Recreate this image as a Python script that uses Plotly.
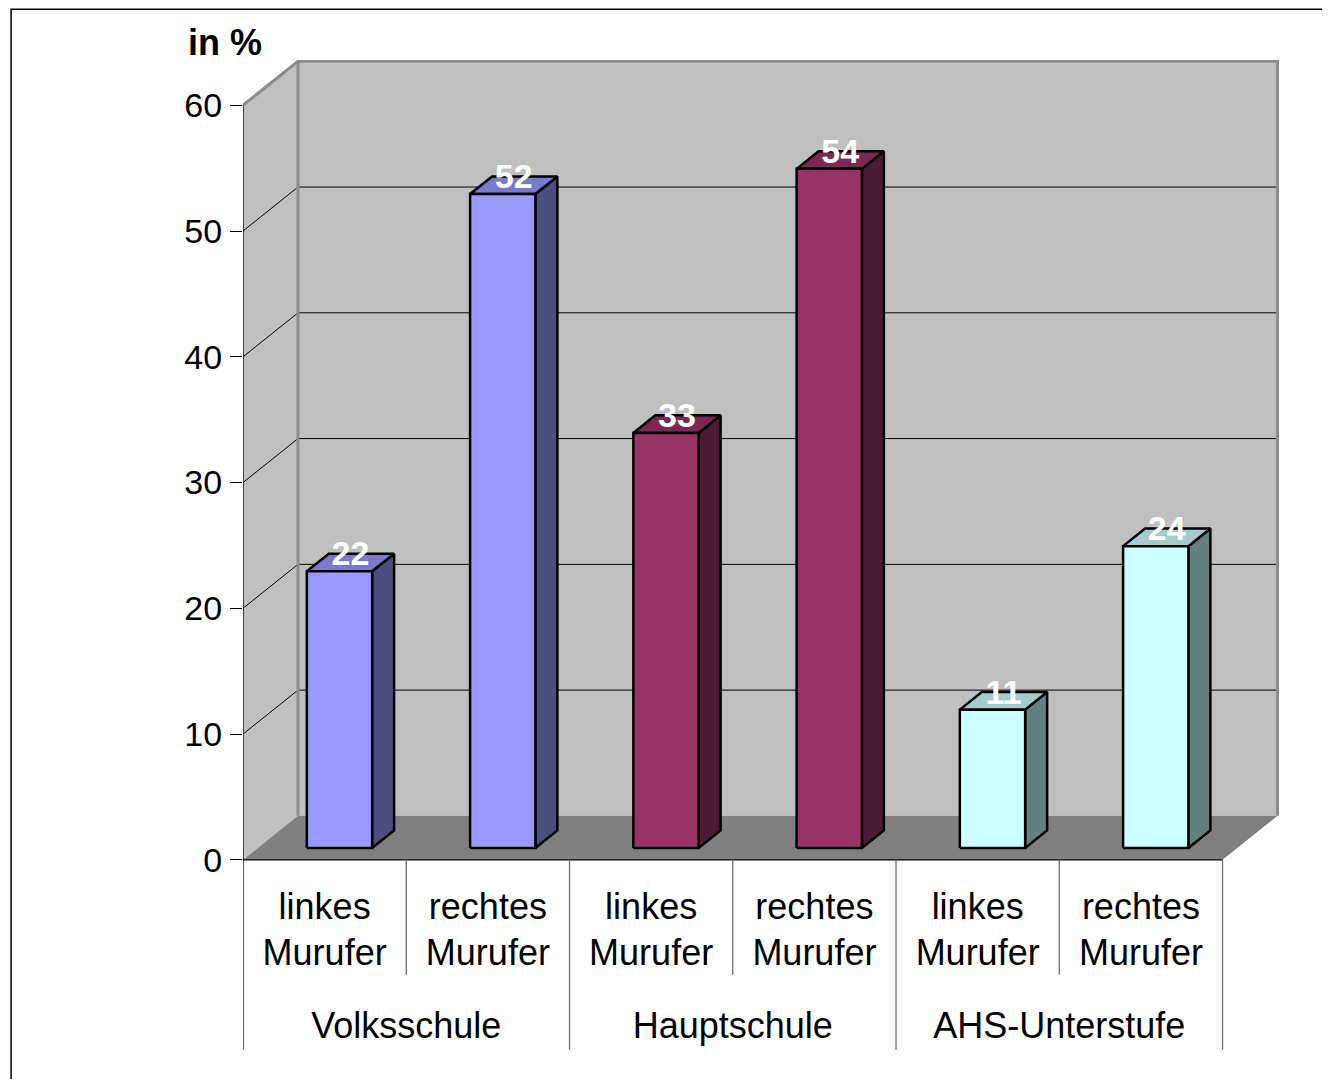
import plotly.graph_objects as go

# ---------------- data ----------------
groups = ["Volksschule", "Hauptschule", "AHS-Unterstufe"]
sub_line1 = ["linkes", "rechtes", "linkes", "rechtes", "linkes", "rechtes"]
sub_line2 = ["Murufer", "Murufer", "Murufer", "Murufer", "Murufer", "Murufer"]
values = [22, 52, 33, 54, 11, 24]
front_colors = ["#9999FF", "#9999FF", "#993366", "#993366", "#CCFFFF", "#CCFFFF"]
top_colors = ["#7A7ACC", "#7A7ACC", "#7A2952", "#7A2952", "#A3CCCC", "#A3CCCC"]
side_colors = ["#4D4D80", "#4D4D80", "#4D1A33", "#4D1A33", "#668080", "#668080"]
y_ticks = [0, 10, 20, 30, 40, 50, 60]
y_title = "in %"

# ---------------- geometry (style) ----------------
PAGE_W, PAGE_H = 1330, 1079
OFF = 8                  # default body margin of the html page
W, H = PAGE_W - OFF, PAGE_H - OFF
PX_CAT = 163.33          # pixels per category
PX_VAL = 12.583          # pixels per value unit
DX = 55 / PX_CAT         # depth offset in category units
DY = 44 / PX_VAL         # depth offset in value units
YMAX = 60
NCAT = len(values)
X_RANGE = [0, 6.45]
Y_RANGE = [-15.2, 63.6]
ORIGIN_X, ORIGIN_Y = 243, 860   # page pixel of (0, 0)
L = ORIGIN_X - OFF
T = ORIGIN_Y - Y_RANGE[1] * PX_VAL - OFF
R = PAGE_W - (ORIGIN_X + X_RANGE[1] * PX_CAT)
B = PAGE_H - (ORIGIN_Y - Y_RANGE[0] * PX_VAL)

F0, F1 = 0.27, 0.67      # bar depth span
BAR_PAD = 0.3            # bar start within category cell

FONT = "Liberation Sans, Arial, sans-serif"


def proj(x, y, f):
    return x + f * DX, y + f * DY


def poly(points):
    xs = [p[0] for p in points] + [points[0][0]]
    ys = [p[1] for p in points] + [points[0][1]]
    return xs, ys


fig = go.Figure()


def add_poly(points, fill, line_color, line_width):
    xs, ys = poly(points)
    fig.add_trace(go.Scatter(x=xs, y=ys, mode="lines", fill="toself",
                             fillcolor=fill,
                             line=dict(color=line_color, width=line_width),
                             hoverinfo="skip", showlegend=False))


def add_line(xs, ys, color, width):
    fig.add_trace(go.Scatter(x=xs, y=ys, mode="lines",
                             line=dict(color=color, width=width),
                             hoverinfo="skip", showlegend=False))


# walls and floor
add_poly([proj(0, 0, 0), proj(0, 0, 1), proj(0, YMAX, 1), proj(0, YMAX, 0)],
         "#C0C0C0", "rgba(0,0,0,0)", 0)
add_poly([proj(0, 0, 1), proj(NCAT, 0, 1), proj(NCAT, YMAX, 1), proj(0, YMAX, 1)],
         "#C0C0C0", "rgba(0,0,0,0)", 0)
add_poly([proj(0, 0, 0), proj(NCAT, 0, 0), proj(NCAT, 0, 1), proj(0, 0, 1)],
         "#808080", "rgba(0,0,0,0)", 0)

# gridlines
for v in y_ticks[1:-1]:
    a, b = proj(0, v, 0), proj(0, v, 1)
    c = proj(NCAT, v, 1)
    add_line([a[0], b[0], c[0]], [a[1], b[1], c[1]], "#000000", 1)

# wall edges (gray)
p1, p2 = proj(0, YMAX, 0), proj(0, YMAX, 1)
p3, p4 = proj(NCAT, YMAX, 1), proj(NCAT, 0, 1)
p0 = proj(0, 0, 1)
add_line([p1[0], p2[0], p3[0], p4[0]], [p1[1], p2[1], p3[1], p4[1]], "#8C8C8C", 3)
add_line([p0[0], p2[0]], [p0[1], p2[1]], "#8C8C8C", 3)

# bars
for i, v in enumerate(values):
    x0, x1 = i + BAR_PAD, i + 1 - BAR_PAD
    add_poly([proj(x1, 0, F0), proj(x1, 0, F1), proj(x1, v, F1), proj(x1, v, F0)],
             side_colors[i], "#000000", 2.5)
    add_poly([proj(x0, v, F0), proj(x1, v, F0), proj(x1, v, F1), proj(x0, v, F1)],
             top_colors[i], "#000000", 2.5)
    add_poly([proj(x0, 0, F0), proj(x1, 0, F0), proj(x1, v, F0), proj(x0, v, F0)],
             front_colors[i], "#000000", 2.5)

# data labels
fm = (F0 + F1) / 2
fig.add_trace(go.Scatter(
    x=[i + 0.5 + fm * DX for i in range(NCAT)],
    y=[v + F0 * DY + 1.15 for v in values],
    mode="text", text=[str(v) for v in values],
    textfont=dict(family=FONT, size=34, color="#FFFFFF", weight="bold"),
    textposition="middle center", cliponaxis=False,
    hoverinfo="skip", showlegend=False))

# front axes
add_line([0, 0], [Y_RANGE[0] + 0.1, YMAX], "#000000", 1.3)
add_line([0, NCAT], [0, 0], "#000000", 1.3)
INNER_BOTTOM = -9.14
OUTER_BOTTOM = Y_RANGE[0] + 0.1
for k in range(1, NCAT + 1):
    yb = OUTER_BOTTOM if k % 2 == 0 else INNER_BOTTOM
    add_line([k, k], [0, yb], "#6E6E6E", 1.3)

# category labels
LABEL_SIZE = 36
cx = [i + 0.5 for i in range(NCAT)]
fig.add_trace(go.Scatter(x=cx, y=[-3.95] * NCAT, mode="text", text=sub_line1,
                         textfont=dict(family=FONT, size=LABEL_SIZE, color="#000000"),
                         textposition="middle center", cliponaxis=False,
                         hoverinfo="skip", showlegend=False))
fig.add_trace(go.Scatter(x=cx, y=[-7.65] * NCAT, mode="text", text=sub_line2,
                         textfont=dict(family=FONT, size=LABEL_SIZE, color="#000000"),
                         textposition="middle center", cliponaxis=False,
                         hoverinfo="skip", showlegend=False))
fig.add_trace(go.Scatter(x=[2 * g + 1 for g in range(len(groups))], y=[-13.42] * len(groups),
                         mode="text", text=groups,
                         textfont=dict(family=FONT, size=LABEL_SIZE, color="#000000"),
                         textposition="middle center", cliponaxis=False,
                         hoverinfo="skip", showlegend=False))

# paper helpers (page pixel -> paper)
pw = W - L - R
ph = H - T - B


def paper_x(px):
    return (px - OFF - L) / pw


def paper_y(py):
    return (H - B - (py - OFF)) / ph


# title "in %"
fig.add_annotation(x=paper_x(225), y=paper_y(42), xref="paper", yref="paper",
                   xanchor="center", yanchor="middle",
                   text="<b>" + y_title + "</b>", showarrow=False,
                   font=dict(family=FONT, size=36, color="#000000"))

# outer frame
fig.add_shape(type="rect", xref="paper", yref="paper",
              x0=paper_x(11), x1=paper_x(1360), y0=paper_y(1110), y1=paper_y(9),
              line=dict(color="#000000", width=1.5), fillcolor="rgba(0,0,0,0)",
              layer="below")

fig.update_layout(
    width=W, height=H,
    margin=dict(l=L, r=R, t=T, b=B, pad=0),
    paper_bgcolor="#FFFFFF", plot_bgcolor="#FFFFFF",
    showlegend=False,
    xaxis=dict(range=X_RANGE, visible=False, fixedrange=True),
    yaxis=dict(range=Y_RANGE, tickvals=y_ticks, ticktext=[str(t) for t in y_ticks],
               ticks="outside", ticklen=12, tickcolor="#000000", tickwidth=1,
               showgrid=False, zeroline=False, showline=False,
               tickfont=dict(family=FONT, size=34, color="#000000"),
               ticklabelstandoff=1, fixedrange=True),
)

fig.write_html("out.html")
